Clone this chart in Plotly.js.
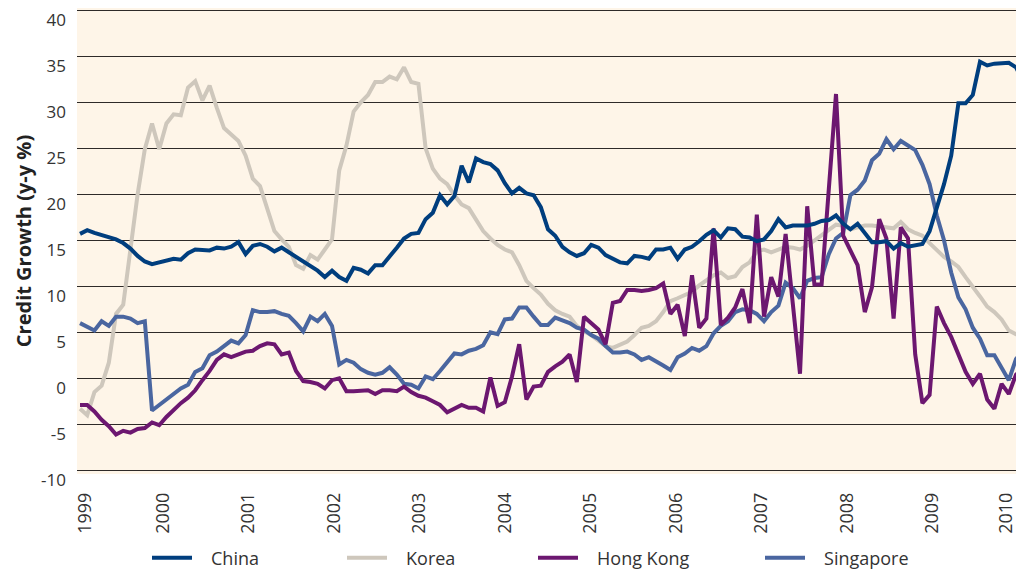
<!DOCTYPE html>
<html>
<head>
<meta charset="utf-8">
<script src="https://cdn.plot.ly/plotly-3.0.1.min.js"></script>
<style>
  html, body { margin: 0; padding: 0; background: #ffffff; }
  #chart { width: 1016px; height: 572px; }
</style>
</head>
<body>
<div id="chart"></div>
<script>
// Monthly observations, Jan 1999 onward (index 0 = Jan 1999)
const china = [
  15.7, 16.1, 15.8, 15.6, 15.3, 15.1, 14.7, 14.1, 13.3, 12.7,
  12.4, 12.6, 12.9, 13.0, 12.9, 13.6, 14.0, 14.0, 13.9, 14.2,
  14.1, 14.3, 14.8, 13.5, 14.4, 14.6, 14.3, 13.8, 14.2, 13.7,
  13.2, 12.7, 12.3, 11.7, 11.0, 11.7, 11.0, 10.6, 12.0, 11.8,
  11.4, 12.3, 12.3, 13.2, 14.2, 15.2, 15.7, 15.8, 17.3, 18.0,
  19.9, 18.9, 19.8, 23.1, 21.3, 23.9, 23.5, 23.3, 22.6, 21.2,
  20.1, 20.7, 20.1, 19.9, 18.6, 16.2, 15.5, 14.3, 13.7, 13.3,
  13.6, 14.5, 14.2, 13.4, 13.0, 12.6, 12.5, 13.3, 13.2, 13.0,
  14.0, 14.0, 14.2, 13.0, 14.0, 14.3, 14.9, 15.6, 16.1, 15.3,
  16.3, 16.2, 15.4, 15.3, 14.9, 15.1, 16.0, 17.3, 16.4, 16.6,
  16.6, 16.6, 16.8, 17.1, 17.2, 17.7, 16.8, 16.2, 16.8, 15.8,
  14.8, 14.8, 14.9, 14.1, 14.7, 14.3, 14.4, 14.6, 16.0, 18.5,
  21.1, 24.2, 29.9, 29.9, 30.8, 34.4, 34.0, 34.2, 34.3, 34.3,
  33.8, 32.3
];
const korea = [
  -3.3, -4.0, -1.5, -0.8, 1.7, 7.0, 8.0, 14.0, 20.0, 24.9,
  27.7, 24.9, 27.7, 28.7, 28.6, 31.6, 32.3, 30.2, 31.8, 29.4,
  27.2, 26.5, 25.8, 24.2, 21.7, 20.9, 18.5, 16.0, 15.1, 14.3,
  12.3, 11.9, 13.4, 12.9, 14.0, 15.1, 22.6, 25.3, 29.0, 30.0,
  30.8, 32.2, 32.2, 32.8, 32.5, 33.8, 32.2, 32.0, 25.0, 22.8,
  21.7, 21.1, 19.9, 18.9, 18.5, 17.2, 16.0, 15.2, 14.5, 14.0,
  13.7, 12.3, 10.6, 9.8, 9.1, 8.1, 7.4, 7.0, 6.7, 5.7,
  5.1, 4.7, 4.1, 3.5, 3.3, 3.6, 4.0, 4.7, 5.5, 5.7,
  6.2, 7.2, 8.4, 8.7, 9.0, 9.4, 10.1, 10.6, 11.2, 11.5,
  10.9, 11.1, 12.1, 12.6, 13.8, 14.0, 13.7, 14.0, 14.3, 14.2,
  14.0, 14.4, 15.0, 15.6, 16.2, 16.7, 16.6, 16.2, 16.4, 16.6,
  16.6, 16.5, 16.3, 16.3, 17.0, 16.2, 15.8, 15.5, 14.7, 14.0,
  13.2, 12.7, 12.1, 11.0, 10.0, 8.9, 7.8, 7.2, 6.4, 5.2,
  4.8, 4.8
];
const hongKong = [
  -2.9, -2.9, -3.6, -4.5, -5.2, -6.1, -5.7, -5.9, -5.5, -5.4,
  -4.8, -5.1, -4.2, -3.4, -2.7, -2.1, -1.3, -0.2, 0.8, 2.0,
  2.6, 2.3, 2.6, 2.9, 3.0, 3.5, 3.8, 3.7, 2.6, 2.8,
  0.8, -0.3, -0.4, -0.6, -1.1, -0.2, 0.0, -1.4, -1.4, -1.3,
  -1.3, -1.7, -1.3, -1.3, -1.4, -0.9, -1.5, -1.9, -2.1, -2.5,
  -2.9, -3.7, -3.3, -2.9, -3.2, -3.2, -3.6, 0.1, -3.0, -2.6,
  0.2, 3.7, -2.3, -0.9, -0.8, 0.7, 1.3, 1.8, 2.6, -0.4,
  6.7, 6.0, 5.3, 3.7, 8.2, 8.4, 9.6, 9.6, 9.5, 9.6,
  9.8, 10.3, 7.0, 8.0, 4.6, 11.2, 5.5, 6.5, 16.3, 5.8,
  6.6, 7.7, 9.7, 6.0, 17.8, 6.7, 11.0, 8.9, 15.7, 8.1,
  0.5, 18.7, 10.2, 10.2, 20.5, 30.9, 15.5, 14.0, 12.3, 7.2,
  9.9, 17.3, 15.2, 6.5, 16.4, 15.2, 2.6, -2.7, -1.8, 7.8,
  6.0, 4.5, 2.5, 0.7, -0.6, 0.5, -2.3, -3.3, -0.6, -1.7,
  0.4, 1.0
];
const singapore = [
  6.0, 5.6, 5.2, 6.2, 5.7, 6.7, 6.7, 6.5, 6.0, 6.2,
  -3.5, -2.9, -2.3, -1.6, -1.1, -0.7, 0.7, 1.1, 2.5, 2.9,
  3.5, 4.1, 3.8, 4.7, 7.4, 7.2, 7.2, 7.3, 7.0, 6.8,
  6.0, 5.1, 6.7, 6.2, 7.0, 5.7, 1.5, 2.0, 1.7, 1.0,
  0.6, 0.4, 0.6, 1.2, 0.4, -0.6, -0.7, -1.1, 0.2, -0.1,
  0.8, 1.8, 2.7, 2.6, 3.0, 3.2, 3.6, 5.0, 4.8, 6.4,
  6.5, 7.7, 7.7, 6.7, 5.8, 5.8, 6.6, 6.3, 6.0, 5.5,
  5.3, 4.7, 4.3, 3.5, 2.8, 2.8, 2.9, 2.6, 2.0, 2.3,
  1.9, 1.4, 0.9, 2.3, 2.7, 3.3, 3.0, 3.5, 4.9, 5.7,
  6.2, 7.2, 7.5, 7.4, 7.0, 6.2, 7.2, 7.9, 10.4, 9.8,
  8.7, 10.6, 10.9, 11.0, 13.5, 15.2, 15.8, 19.9, 20.5, 21.5,
  23.7, 24.4, 26.0, 24.9, 25.8, 25.3, 24.8, 23.2, 21.1, 17.7,
  15.0, 11.5, 8.8, 7.5, 5.5, 4.3, 2.5, 2.5, 1.1, -0.2,
  2.1, 3.0
];
const seriesNames = ['China', 'Korea', 'Hong Kong', 'Singapore'];
const yearLabels = ['1999','2000','2001','2002','2003','2004','2005','2006','2007','2008','2009','2010'];
const yTickValues = [-10, -5, 0, 5, 10, 15, 20, 25, 30, 35, 40];
const yTickLabels = ['-10', '-5', '0', '5', '10', '15', '20', '25', '30', '35', '40'];

const months = china.map((_, i) => i);
const xMin = -0.42, xMax = 130.0;
const yearTickVals = yearLabels.map((_, i) => Math.min(Math.max(i * 11.88 - 0.4, 0.7), 128.6));

const colors = ['#003E7E', '#CEC7BC', '#6C1770', '#4A66A0'];
const seriesData = [china, korea, hongKong, singapore];
const legendIds = ['legend', 'legend2', 'legend3', 'legend4'];
const pad = '\u00a0\u00a0\u00a0';

const traces = seriesData.map((ys, k) => ({
  type: 'scatter',
  mode: 'lines',
  name: pad + seriesNames[k],
  x: months,
  y: ys,
  line: { color: colors[k], width: 4, shape: 'linear' },
  legend: legendIds[k],
  hoverinfo: 'skip'
}));
// draw order: Korea bottom, then Singapore, Hong Kong, China on top
const ordered = [traces[1], traces[3], traces[2], traces[0]];

const plotLeft = 77, plotRight = 1016, plotW = plotRight - plotLeft;
const legendStarts = [147, 342, 533, 760];
function legendCfg(px) {
  return {
    orientation: 'h',
    x: (px - plotLeft) / plotW,
    xanchor: 'left',
    yref: 'container',
    y: 1 - 558 / 572,
    yanchor: 'middle',
    bgcolor: 'rgba(0,0,0,0)',
    borderwidth: 0,
    itemwidth: 40,
    font: { family: 'Open Sans, sans-serif', size: 18, color: '#333333' }
  };
}

const layout = {
  width: 1016,
  height: 572,
  margin: { l: plotLeft, r: 0, t: 8, b: 98, autoexpand: false },
  paper_bgcolor: '#ffffff',
  plot_bgcolor: '#FEF5E8',
  font: { family: 'Open Sans, sans-serif', size: 16, color: '#333333' },
  showlegend: true,
  xaxis: {
    range: [xMin, xMax],
    tickmode: 'array',
    tickvals: yearTickVals,
    ticktext: yearLabels,
    tickangle: -90,
    showgrid: false,
    zeroline: false,
    showline: false,
    ticks: '',
    ticklabelstandoff: 14,
    ticklabeloverflow: 'allow',
    automargin: false,
    tickfont: { family: 'Open Sans, sans-serif', size: 18, color: '#333333' },
    fixedrange: true
  },
  yaxis: {
    range: [-10.4, 40.25],
    tickmode: 'array',
    tickvals: yTickValues,
    ticktext: yTickLabels,
    showgrid: true,
    gridcolor: '#2e2a28',
    gridwidth: 1,
    zeroline: false,
    showline: false,
    ticks: '',
    ticklabelstandoff: 10,
    ticklabelshift: 10,
    ticklabeloverflow: 'allow',
    automargin: false,
    tickfont: { family: 'Open Sans, sans-serif', size: 17, color: '#333333' },
    title: {
      text: 'Credit Growth (y-y %)',
      font: { family: 'Open Sans, sans-serif', size: 20, color: '#222222', weight: 'bold' },
      standoff: 4
    },
    fixedrange: true
  },
  legend: legendCfg(legendStarts[0]),
  legend2: legendCfg(legendStarts[1]),
  legend3: legendCfg(legendStarts[2]),
  legend4: legendCfg(legendStarts[3])
};

Plotly.newPlot('chart', ordered, layout, { displayModeBar: false, staticPlot: true });
</script>
</body>
</html>
